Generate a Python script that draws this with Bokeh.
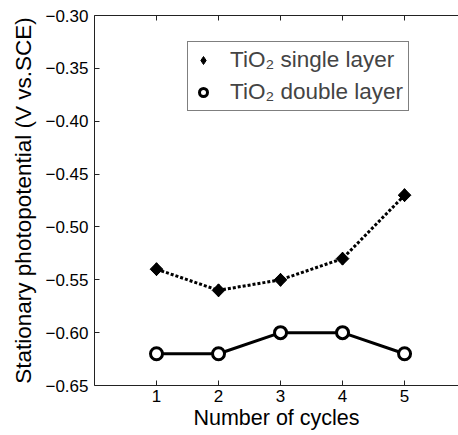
import math
from bokeh.plotting import figure
from bokeh.models import (Range1d, LinearAxis, Legend, LegendItem, FixedTicker,
                          ColumnDataSource)
from bokeh.embed import file_html
from bokeh.resources import INLINE

cycles = [1, 2, 3, 4, 5]
single_layer = [-0.54, -0.56, -0.55, -0.53, -0.47]
double_layer = [-0.62, -0.62, -0.60, -0.60, -0.62]
y_ticks = [-0.65, -0.60, -0.55, -0.50, -0.45, -0.40, -0.35, -0.30]
y_tick_labels = ["\u22120.65", "\u22120.60", "\u22120.55", "\u22120.50", "\u22120.45", "\u22120.40", "\u22120.35", "\u22120.30"]
x_ticks = [1, 2, 3, 4, 5]
label_single = "TiO\u2082 single layer"
label_double = "TiO\u2082 double layer"
x_title = "Number of cycles"
y_title = "Stationary photopotential (V vs.SCE)"

FONT = "Liberation Sans"
AX = "#222222"

p = figure(width=458, height=435, output_backend="svg", toolbar_location=None,
           x_range=Range1d(0, 5.87), y_range=Range1d(-0.65, -0.30),
           min_border_left=94, min_border_right=0, min_border_top=15, min_border_bottom=50,
           background_fill_color="white", border_fill_color="white")
p.outline_line_color = None
p.xgrid.visible = False
p.ygrid.visible = False

src1 = ColumnDataSource(dict(x=cycles, y=single_layer))
src2 = ColumnDataSource(dict(x=cycles, y=double_layer))

p.line("x", "y", source=src1, line_color="black", line_width=3, line_dash="3 2")
# smaller diamond used for the legend key; hidden under the plot markers
lg1 = p.scatter("x", "y", source=src1, marker="diamond", size=13,
                fill_color="black", line_color="black", line_width=1)
p.scatter("x", "y", source=src1, marker="square", size=9, angle=math.pi / 4,
          fill_color="black", line_color="black", line_width=1)

p.line("x", "y", source=src2, line_color="black", line_width=3)
lg2 = p.scatter("x", "y", source=src2, marker="circle", size=8, fill_color="white",
                line_color="black", line_width=3)
p.scatter("x", "y", source=src2, marker="circle", size=12, fill_color="white",
          line_color="black", line_width=3)

for ax in (p.xaxis[0], p.yaxis[0]):
    ax.axis_line_color = AX
    ax.major_tick_line_color = AX
    ax.major_tick_in = 5
    ax.major_tick_out = 0
    ax.minor_tick_line_color = None
    ax.major_label_text_font = FONT
    ax.major_label_text_font_size = "17px"
    ax.major_label_text_color = "black"
    ax.axis_label_text_font = FONT
    ax.axis_label_text_font_style = "normal"
    ax.axis_label_text_color = "black"

p.xaxis[0].axis_label_text_font_size = "21.5px"
p.yaxis[0].axis_label_text_font_size = "22.5px"
p.xaxis[0].ticker = FixedTicker(ticks=x_ticks)
p.yaxis[0].ticker = FixedTicker(ticks=y_ticks)
p.yaxis[0].major_label_overrides = {t: s for t, s in zip(y_ticks, y_tick_labels)}
p.xaxis[0].axis_label = x_title
p.yaxis[0].axis_label = y_title
p.xaxis[0].major_label_standoff = 4
p.xaxis[0].axis_label_standoff = 1
p.yaxis[0].major_label_standoff = 6
p.yaxis[0].axis_label_standoff = 6

top = LinearAxis(ticker=FixedTicker(ticks=x_ticks), major_label_text_font_size="0px",
                 axis_line_color=AX, major_tick_line_color=AX, major_tick_in=5, major_tick_out=0,
                 minor_tick_line_color=None)
top.major_label_text_color = None
p.add_layout(top, "above")

legend = Legend(items=[LegendItem(label=label_single, renderers=[lg1]),
                       LegendItem(label=label_double, renderers=[lg2])],
                location=(93, 274), border_line_color="black", border_line_width=1,
                background_fill_alpha=1, label_text_font=FONT, label_text_font_size="22.5px",
                padding=5, spacing=6, margin=0, glyph_width=20, glyph_height=24,
                label_height=24, label_standoff=17)
p.add_layout(legend, "center")

open("out.html", "w").write(file_html(p, INLINE))
